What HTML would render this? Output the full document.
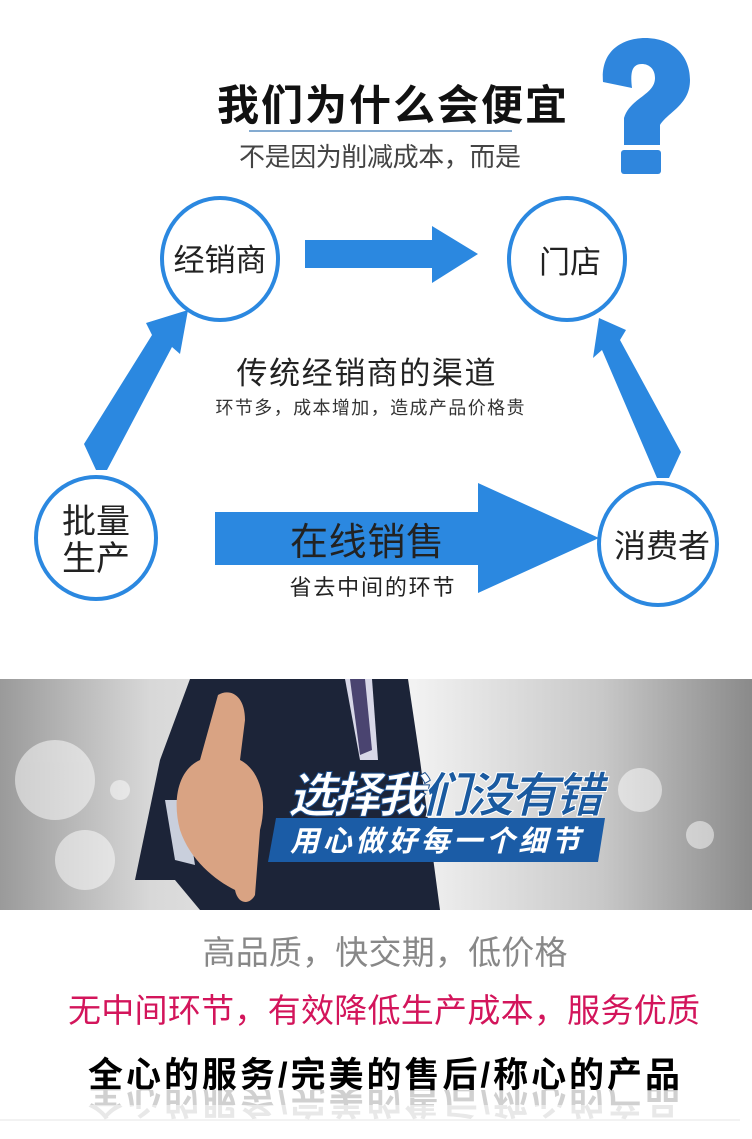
<!DOCTYPE html>
<html><head><meta charset="utf-8"><style>
html,body{margin:0;padding:0;background:#fff;}
svg{display:block}
text{font-family:"Liberation Sans","Noto Sans CJK SC",sans-serif;}
</style></head><body>
<svg width="752" height="1139" viewBox="0 0 752 1139" xmlns="http://www.w3.org/2000/svg">
<defs>
<linearGradient id="bg" x1="0" y1="0" x2="1" y2="0">
<stop offset="0" stop-color="#9a9a9a"/><stop offset="0.2" stop-color="#d8d8d8"/><stop offset="0.55" stop-color="#f2f2f2"/><stop offset="0.8" stop-color="#c8c8c8"/><stop offset="1" stop-color="#8a8a8a"/>
</linearGradient>
<clipPath id="rc"><rect x="0" y="1090" width="752" height="30"/></clipPath>
</defs>
<rect width="752" height="1139" fill="#fff"/>
<text x="392" y="120" font-size="42" font-weight="bold" text-anchor="middle" fill="#111" textLength="350">我们为什么会便宜</text>
<line x1="249" y1="131" x2="512" y2="131" stroke="#5b8fc2" stroke-width="1.5"/>
<text x="380" y="166" font-size="26" text-anchor="middle" fill="#444" textLength="282">不是因为削减成本，而是</text>
<path d="M603,82 C600,45 630,38 645,38 C672,38 690,55 690,80 C690,105 668,112 660,125 L660,145 L624,145 L624,118 C630,98 655,95 655,78 C655,68 648,64 642,64 C632,64 630,72 632,88 Z" fill="#2f86dd"/>
<rect x="621" y="150" width="40" height="24" rx="3" fill="#2f86dd"/>
<g fill="#fff" stroke="#2b88e0" stroke-width="4">
<ellipse cx="220" cy="259" rx="58" ry="61"/>
<ellipse cx="567" cy="259" rx="58" ry="61"/>
<ellipse cx="96" cy="538" rx="60" ry="61"/>
<ellipse cx="658" cy="544" rx="59" ry="61"/>
</g>
<g fill="#222" font-size="31" text-anchor="middle">
<text x="220" y="271">经销商</text>
<text x="570" y="273">门店</text>
<text x="96" y="533" font-size="34">批量</text>
<text x="96" y="570" font-size="34">生产</text>
<text x="662" y="557" font-size="32">消费者</text>
</g>
<g fill="#2b88e0">
<polygon points="305,240 432,240 432,226 478,254 432,283 432,268 305,268"/>
<polygon points="96,470 84,444 152,335 146,323 188,310 180,354 172,347 107,470"/>
<polygon points="669,478 681,452 620,340 626,330 599,318 593,358 602,350 657,478"/>
<polygon points="215,512 478,512 478,483 599,538 478,593 478,565 215,565"/>
</g>
<text x="366" y="384" font-size="31" text-anchor="middle" fill="#222" textLength="259">传统经销商的渠道</text>
<text x="370" y="414" font-size="18" text-anchor="middle" fill="#333" textLength="309">环节多，成本增加，造成产品价格贵</text>
<text x="367" y="555" font-size="38" text-anchor="middle" fill="#222" textLength="154">在线销售</text>
<text x="372" y="595" font-size="22" text-anchor="middle" fill="#222" textLength="165">省去中间的环节</text>
<rect x="0" y="679" width="752" height="231" fill="url(#bg)"/>
<g fill="#fff" opacity="0.5">
<circle cx="55" cy="780" r="40"/><circle cx="640" cy="790" r="22"/><circle cx="700" cy="835" r="14"/><circle cx="120" cy="790" r="10"/><circle cx="85" cy="860" r="30"/>
</g>
<polygon points="190,679 408,679 420,760 440,910 200,910 175,880 135,880 160,760" fill="#1c2438"/>
<polygon points="345,679 372,679 378,760 360,760" fill="#d8d8e8"/>
<polygon points="350,679 365,679 372,750 360,755" fill="#4a4470"/>
<path d="M165,800 L175,860 L195,865 L185,800 Z" fill="#c9cfdc"/>
<path d="M218,695 C230,688 245,695 245,720 L240,760 C260,770 268,800 260,830 L255,895 C250,905 238,905 235,890 C215,880 190,860 180,830 C172,800 178,770 200,760 Z" fill="#d9a383"/>
<text x="288" y="812" font-size="48" font-weight="bold" font-style="italic" fill="#fff" stroke="#1a4d8c" stroke-width="1" textLength="315">选择我<tspan fill="#1a5aa0" stroke="#fff">们没有错</tspan></text>
<polygon points="276,818 605,818 598,862 268,862" fill="#1b5ca6"/>
<text x="435" y="851" font-size="29" font-weight="bold" font-style="italic" text-anchor="middle" fill="#fff" textLength="290">用心做好每一个细节</text>
<text x="385" y="964" font-size="33" text-anchor="middle" fill="#888" textLength="365">高品质，快交期，低价格</text>
<text x="384" y="1022" font-size="33" text-anchor="middle" fill="#d3155b" textLength="632">无中间环节，有效降低生产成本，服务优质</text>
<text x="384" y="1087" font-size="35" font-weight="bold" text-anchor="middle" fill="#000" textLength="592">全心的服务/完美的售后/称心的产品</text>
<g clip-path="url(#rc)">
<g transform="translate(0,2176) scale(1,-1)">
<text x="384" y="1087" font-size="35" font-weight="bold" text-anchor="middle" fill="#000" opacity="0.18" textLength="592">全心的服务/完美的售后/称心的产品</text>
</g>
</g>
<rect x="0" y="1105" width="752" height="15" fill="#fff" opacity="0.5"/>
<line x1="0" y1="1120" x2="740" y2="1120" stroke="#e6e6e6" stroke-width="1"/>
</svg>
</body></html>
